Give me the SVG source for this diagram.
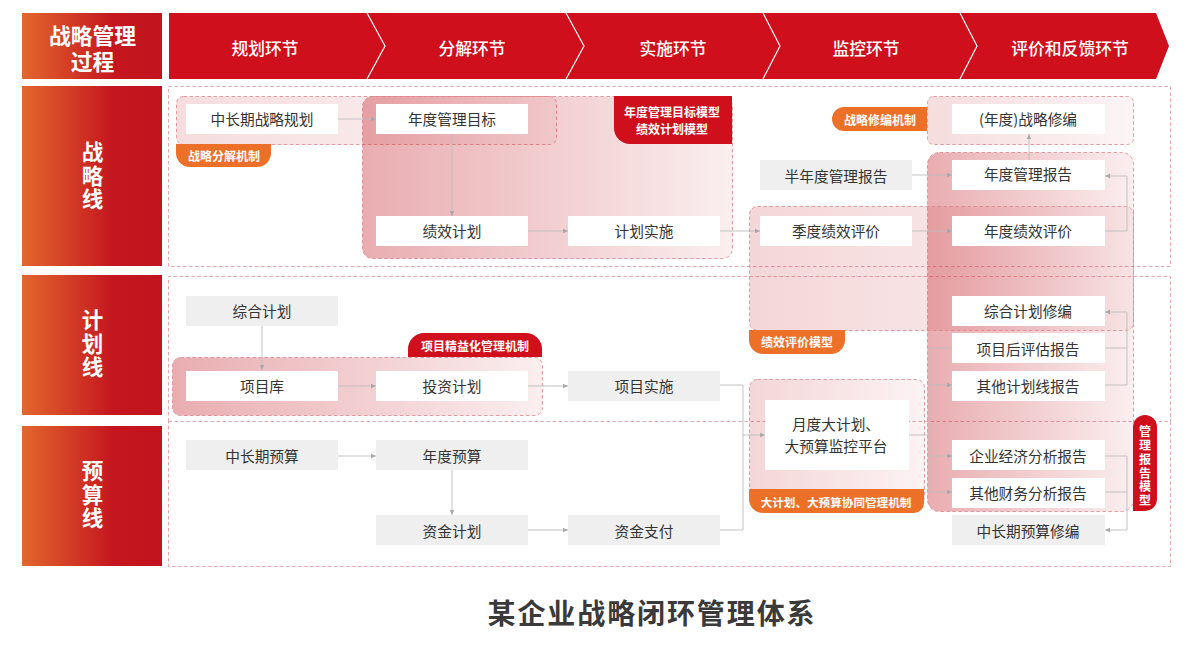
<svg xmlns="http://www.w3.org/2000/svg" width="1201" height="651" viewBox="0 0 1201 651">
<style>
text{font-family:"Noto Sans CJK SC","Noto Sans",sans-serif;text-anchor:middle;dominant-baseline:central}
.b{fill:#fff}.g{fill:#efefef}
.t{font-size:14.7px;fill:#333}
.h{font-size:16.8px;fill:#fff;font-weight:500}
.l{font-size:21.8px;fill:#fff;font-weight:700}
.v{font-size:21.5px;fill:#fff;font-weight:700;writing-mode:vertical-rl;letter-spacing:2.2px}
.m{font-size:12px;fill:#fff;font-weight:700}
.mv{font-size:12px;fill:#fff;font-weight:700;writing-mode:vertical-rl;letter-spacing:1.7px}
.lane{fill:none;stroke:#e2919a;stroke-width:.8;stroke-dasharray:3.5 2.5}
.rg{stroke:#dc838c;stroke-width:.8;stroke-dasharray:3.5 2.5}
.c{fill:none;stroke:#bcbcbc;stroke-width:.9}
.a{marker-end:url(#ar)}
</style>
<defs>
<marker id="ar" markerWidth="6" markerHeight="6" refX="5" refY="3" orient="auto" markerUnits="userSpaceOnUse"><path d="M0 .8L5 3L0 5.2z" fill="#a8a8a8"/></marker>
<linearGradient id="side" x1="0" x2="1" y1="0" y2="0"><stop offset="0" stop-color="#e2672d"/><stop offset=".65" stop-color="#c5161f"/><stop offset="1" stop-color="#c0141e"/></linearGradient>
<linearGradient id="strong" x1="0" x2="1" y1="0" y2="0"><stop offset="0" stop-color="#c8323a" stop-opacity=".4"/><stop offset="1" stop-color="#c8323a" stop-opacity=".08"/></linearGradient>
<linearGradient id="soft" x1="0" x2="1" y1="0" y2="0"><stop offset="0" stop-color="#c8323a" stop-opacity=".2"/><stop offset="1" stop-color="#c8323a" stop-opacity=".06"/></linearGradient>
<linearGradient id="pale" x1="0" x2="1" y1="0" y2="0"><stop offset="0" stop-color="#c8323a" stop-opacity=".17"/><stop offset="1" stop-color="#c8323a" stop-opacity=".05"/></linearGradient>
</defs>

<g id="header">
<rect x="22" y="13" width="140" height="66" fill="url(#side)"/>
<text class="l" y="33.500"><tspan x="92.500">战略管理</tspan><tspan x="92.500" dy="26.500">过程</tspan></text>
<path d="M169 13H1156L1169 46L1156 79H169z" fill="#cf101c"/>
<path class="c" style="stroke:#fff;stroke-width:1.2" d="M367 13L385 46L367 79M566 13L584 46L566 79M763 13L780 46L763 79M960 13L977 46L960 79"/>
<text class="h" x="265" y="47.500">规划环节</text>
<text class="h" x="472" y="47.500">分解环节</text>
<text class="h" x="673" y="47.500">实施环节</text>
<text class="h" x="866" y="47.500">监控环节</text>
<text class="h" x="1070" y="47.500">评价和反馈环节</text>
</g>

<g id="lane-strategy">
<rect x="22" y="86" width="140" height="180" fill="url(#side)"/>
<rect class="lane" x="168.500" y="86.500" width="1002" height="180"/>
<text class="v" x="92.500" y="176.500">战略线</text>
</g>
<g id="lane-plan">
<rect x="22" y="275" width="140" height="140" fill="url(#side)"/>
<path class="lane" d="M168.500 421.500V276.500H1170.500V421.500"/>
<text class="v" x="92.500" y="344.500">计划线</text>
</g>
<g id="lane-budget">
<rect x="22" y="426" width="140" height="140" fill="url(#side)"/>
<rect class="lane" x="168.500" y="421.500" width="1002" height="145"/>
<text class="v" x="92.500" y="495.500">预算线</text>
</g>

<g id="regions">
<rect class="rg" x="176.500" y="96.500" width="380" height="48" rx="7" fill="url(#pale)"/>
<rect class="rg" x="362.500" y="96.500" width="370" height="162" rx="10" fill="url(#strong)"/>
<rect class="rg" x="927.500" y="96.500" width="206" height="48" rx="6" fill="url(#pale)"/>
<rect class="rg" x="927.500" y="152.500" width="206" height="359" rx="12" fill="url(#strong)"/>
<rect class="rg" x="749.500" y="206.500" width="384" height="124" rx="8" fill="url(#soft)"/>
<rect class="rg" x="172.500" y="357.500" width="370" height="58" rx="8" fill="url(#strong)"/>
<rect class="rg" x="749.500" y="379.500" width="175" height="125" rx="8" fill="url(#soft)"/>
</g>

<g id="connectors">
<path class="c a" d="M338 119H376"/>
<path class="c a" d="M452 134V216"/>
<path class="c a" d="M528 231H568"/>
<path class="c a" d="M720 231H760"/>
<path class="c a" d="M912 175H952"/>
<path class="c a" d="M912 231H952"/>
<path class="c a" d="M1029 160V134"/>
<path class="c a" d="M1105 231H1127V176H1105"/>
<path class="c a" d="M262 326V370"/>
<path class="c a" d="M338 386H376"/>
<path class="c a" d="M528 386H568"/>
<path class="c" d="M720 385H743V530H720"/>
<path class="c a" d="M743 435H765"/>
<path class="c a" d="M338 456H376"/>
<path class="c a" d="M452 470V515"/>
<path class="c a" d="M528 530H568"/>
<path class="c" d="M909 435H930"/>
<path class="c a" d="M952 348H930V492H952"/>
<path class="c a" d="M930 385H952"/>
<path class="c a" d="M930 456H952"/>
<path class="c a" d="M1105 385H1127V312H1105"/>
<path class="c" d="M1105 348H1127"/>
<path class="c a" d="M1105 456H1127V530H1105"/>
<path class="c" d="M1105 492H1127"/>
</g>

<g id="tag-decompose"><path d="M176 144H271V153A14 14 0 0 1 257 167H190A14 14 0 0 1 176 153z" fill="#ec7028"/><text class="m" x="224" y="155.500">战略分解机制</text></g>
<g id="tag-annual"><path d="M614 96H732V144H630A16 16 0 0 1 614 128z" fill="#cf101c"/><text class="m" x="672" y="111.500">年度管理目标模型</text><text class="m" x="672" y="128.500">绩效计划模型</text></g>
<g id="tag-revise"><path d="M927 107V131H844A12 12 0 0 1 844 107z" fill="#ec7028"/><text class="m" x="880" y="119">战略修编机制</text></g>
<g id="tag-eval"><path d="M749 330H845V340A14 14 0 0 1 831 354H763A14 14 0 0 1 749 340z" fill="#ec7028"/><text class="m" x="797" y="341.500">绩效评价模型</text></g>
<g id="tag-project"><path d="M408 357V349A16 16 0 0 1 424 333H526A16 16 0 0 1 542 349V357z" fill="#cf101c"/><text class="m" x="475" y="345.500">项目精益化管理机制</text></g>
<g id="tag-monthly"><path d="M749 489H924V503A10 10 0 0 1 914 513H763A14 14 0 0 1 749 499z" fill="#ec7028"/><text class="m" x="836" y="501.500" style="font-size:11.6px">大计划、大预算协同管理机制</text></g>
<g id="tag-report"><path d="M1133 511V427A12 12 0 0 1 1157 427V499A12 12 0 0 1 1145 511z" fill="#cf101c"/><text class="mv" x="1145" y="467">管理报告模型</text></g>

<g id="n1"><rect class="b" x="186" y="104" width="152" height="30"/><text class="t" x="262" y="118">中长期战略规划</text></g>
<g id="n2"><rect class="b" x="376" y="104" width="152" height="30"/><text class="t" x="452" y="118">年度管理目标</text></g>
<g id="n3"><rect class="b" x="376" y="216" width="152" height="30"/><text class="t" x="452" y="230">绩效计划</text></g>
<g id="n4"><rect class="b" x="568" y="216" width="152" height="30"/><text class="t" x="644" y="230">计划实施</text></g>
<g id="n5"><rect class="b" x="760" y="216" width="152" height="30"/><text class="t" x="836" y="230">季度绩效评价</text></g>
<g id="n6"><rect class="g" x="760" y="160" width="152" height="30"/><text class="t" x="836" y="175">半年度管理报告</text></g>
<g id="n7"><rect class="b" x="952" y="104" width="153" height="30"/><text class="t" x="1028" y="118">(年度)战略修编</text></g>
<g id="n8"><rect class="b" x="952" y="160" width="153" height="30"/><text class="t" x="1028" y="173">年度管理报告</text></g>
<g id="n9"><rect class="b" x="952" y="216" width="153" height="30"/><text class="t" x="1028" y="230">年度绩效评价</text></g>
<g id="n10"><rect class="g" x="186" y="296" width="152" height="30"/><text class="t" x="262" y="310">综合计划</text></g>
<g id="n11"><rect class="b" x="186" y="371" width="152" height="30"/><text class="t" x="262" y="385">项目库</text></g>
<g id="n12"><rect class="b" x="376" y="371" width="152" height="30"/><text class="t" x="452" y="385">投资计划</text></g>
<g id="n13"><rect class="g" x="568" y="371" width="152" height="30"/><text class="t" x="644" y="385">项目实施</text></g>
<g id="n14"><rect class="b" x="952" y="296" width="153" height="30"/><text class="t" x="1028" y="310">综合计划修编</text></g>
<g id="n15"><rect class="b" x="952" y="333" width="153" height="30"/><text class="t" x="1028" y="348">项目后评估报告</text></g>
<g id="n16"><rect class="b" x="952" y="371" width="153" height="30"/><text class="t" x="1028" y="385">其他计划线报告</text></g>
<g id="n17"><rect class="g" x="186" y="440" width="152" height="30"/><text class="t" x="262" y="455">中长期预算</text></g>
<g id="n18"><rect class="g" x="376" y="440" width="152" height="30"/><text class="t" x="452" y="455">年度预算</text></g>
<g id="n19"><rect class="g" x="376" y="515" width="152" height="30"/><text class="t" x="452" y="530">资金计划</text></g>
<g id="n20"><rect class="g" x="568" y="515" width="152" height="30"/><text class="t" x="644" y="530">资金支付</text></g>
<g id="n21"><rect class="b" x="765" y="400" width="144" height="70"/><text class="t" x="836" y="423">月度大计划、</text><text class="t" x="836" y="445">大预算监控平台</text></g>
<g id="n22"><rect class="b" x="952" y="440" width="153" height="30"/><text class="t" x="1028" y="455">企业经济分析报告</text></g>
<g id="n23"><rect class="b" x="952" y="478" width="153" height="30"/><text class="t" x="1028" y="492">其他财务分析报告</text></g>
<g id="n24"><rect class="g" x="952" y="515" width="153" height="30"/><text class="t" x="1028" y="530">中长期预算修编</text></g>

<text x="652" y="612" style="font-size:28px;font-weight:700;fill:#3a3a3a;letter-spacing:1.9px">某企业战略闭环管理体系</text>
</svg>
